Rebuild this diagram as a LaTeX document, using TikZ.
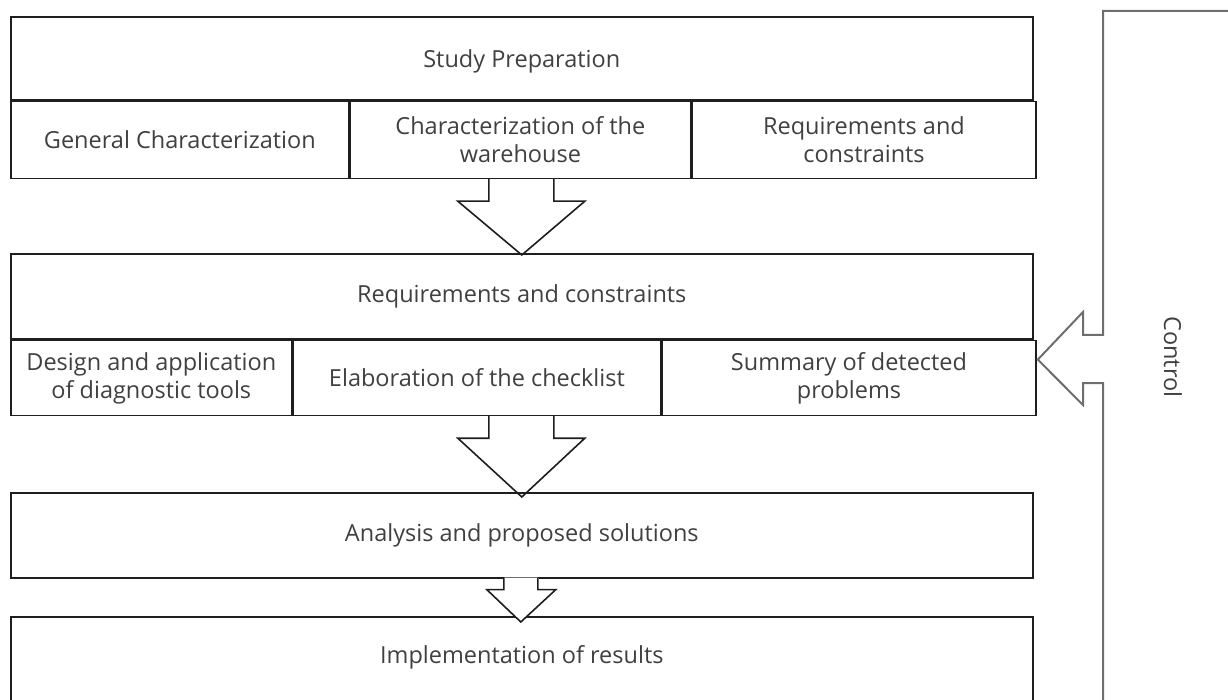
\documentclass[tikz,border=0pt]{standalone}
\usepackage{fontspec}
\setmainfont{Open Sans}
\usetikzlibrary{positioning,calc}
\definecolor{txtgray}{HTML}{404040}
\definecolor{linegray}{HTML}{1E1E1E}
\definecolor{ctrlgray}{HTML}{6E6E6E}
\begin{document}
\begin{tikzpicture}[
        x=1pt, y=-1pt,
        every node/.style={font=\fontsize{23.5}{28}\selectfont, text=txtgray},
        cell/.style={draw=linegray, line width=1.6pt, align=center, inner sep=0pt, anchor=north west},
        blockarrow/.style={draw=linegray, line width=1.6pt, line join=miter},
        loopline/.style={draw=ctrlgray, line width=2pt, line join=miter}
    ]
    \clip (0,0) rectangle (1228,700);
    \useasboundingbox (0,0) rectangle (1228,700);
    % study preparation
    \node[cell, minimum width=1022pt, minimum height=83pt, text height=25pt] (prep) at (10,16) {Study Preparation};
    \node[cell, minimum width=338pt, minimum height=77pt] (gen) at (prep.south west) {General Characterization};
    \node[cell, minimum width=340pt, minimum height=77pt, right=0pt of gen] (ware) {Characterization of the\\warehouse};
    \node[cell, minimum width=344pt, minimum height=77pt, right=0pt of ware] (cons) {Requirements and\\constraints};
    % requirements and constraints
    \node[cell, minimum width=1022pt, minimum height=85pt] (req) at (10,253) {Requirements and constraints};
    \node[cell, minimum width=281pt, minimum height=75pt] (design) at (req.south west) {Design and application\\of diagnostic tools};
    \node[cell, minimum width=367pt, minimum height=75pt, right=0pt of design] (check) {Elaboration of the checklist};
    \node[cell, minimum width=374pt, minimum height=75pt, right=0pt of check] (summ) {Summary of detected\\problems};
    % analysis and implementation
    \node[cell, minimum width=1022pt, minimum height=85pt] (anal) at (10,492) {Analysis and proposed solutions};
    \node[cell, minimum width=1022pt, minimum height=100pt, text depth=24pt] (impl) at (10,616) {Implementation of results};
    \node[rotate=-90] (ctrl) at (1173,357) {Control};
    % hollow arrows
    \draw[blockarrow] ($(prep.south |- gen.south)+(-33,0)$) -- ++(0,22) -- ++(-31,0)
        -- ($(req.north)+(0,2)$) -- ($(prep.south |- gen.south)+(63,22)$) -- ++(-31,0) -- ++(0,-22);
    \draw[blockarrow] ($(req.south |- design.south)+(-33,0)$) -- ++(0,22) -- ++(-31,0)
        -- ($(anal.north)+(0,5)$) -- ($(req.south |- design.south)+(63,22)$) -- ++(-31,0) -- ++(0,-22);
    \fill[white] ($(anal.south)+(-17,-1)$) rectangle ++(34,12);
    \draw[blockarrow, fill=white] ($(anal.south)+(-18,-1)$) -- ++(0,12) -- ++(-17,0)
        -- ($(impl.north)+(-1,6)$) -- ($(anal.south)+(34,11)$) -- ++(-18,0) -- ++(0,-12);
    % control loop
    \coordinate (tip) at ($(summ.north east)+(1,20)$);
    \draw[loopline] (1240,11) -- (1103,11) -- (1103,335) -- (1083,335) -- (1083,312)
        -- (tip) -- (1083,405) -- (1083,383) -- (1103,383) -- (1103,710);
\end{tikzpicture}
\end{document}
